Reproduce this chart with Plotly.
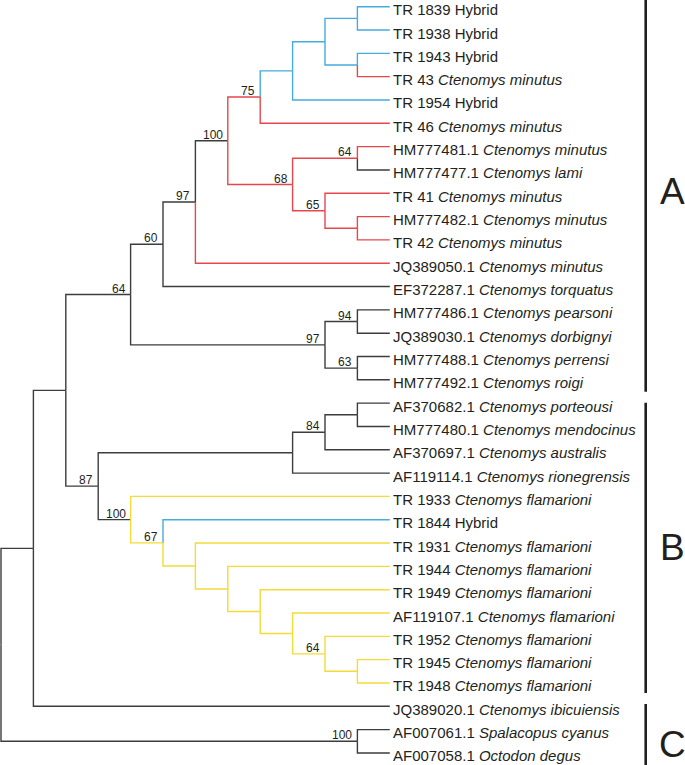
import plotly.graph_objects as go

# ---------------- data ----------------
leaf_ids = ["TR 1839", "TR 1938", "TR 1943", "TR 43", "TR 1954", "TR 46",
            "HM777481.1", "HM777477.1", "TR 41", "HM777482.1", "TR 42",
            "JQ389050.1", "EF372287.1", "HM777486.1", "JQ389030.1",
            "HM777488.1", "HM777492.1", "AF370682.1", "HM777480.1",
            "AF370697.1", "AF119114.1", "TR 1933", "TR 1844", "TR 1931",
            "TR 1944", "TR 1949", "AF119107.1", "TR 1952", "TR 1945",
            "TR 1948", "JQ389020.1", "AF007061.1", "AF007058.1"]
leaf_taxa = ["Hybrid", "Hybrid", "Hybrid", "Ctenomys minutus", "Hybrid",
             "Ctenomys minutus", "Ctenomys minutus", "Ctenomys lami",
             "Ctenomys minutus", "Ctenomys minutus", "Ctenomys minutus",
             "Ctenomys minutus", "Ctenomys torquatus", "Ctenomys pearsoni",
             "Ctenomys dorbignyi", "Ctenomys perrensi", "Ctenomys roigi",
             "Ctenomys porteousi", "Ctenomys mendocinus", "Ctenomys australis",
             "Ctenomys rionegrensis", "Ctenomys flamarioni", "Hybrid",
             "Ctenomys flamarioni", "Ctenomys flamarioni", "Ctenomys flamarioni",
             "Ctenomys flamarioni", "Ctenomys flamarioni", "Ctenomys flamarioni",
             "Ctenomys flamarioni", "Ctenomys ibicuiensis", "Spalacopus cyanus",
             "Octodon degus"]
# lineage group of the branch leading to each leaf: B hybrid, R minutus, Y flamarioni, K other
leaf_group = list("BBBRBRRKRRRRK" + "KKKK" + "KKKK" + "YB" + "YYYYYYY" + "KKK")
leaf_depth = 12

# internal nodes: name, depth, children, group of incoming branch, bootstrap
node_names = ["a", "b", "c", "d", "n75", "n64a", "e", "n65", "n68", "n100a",
              "n97a", "n60", "n94", "n63", "n97b", "n64b", "f", "n84", "g",
              "h", "n64c", "i", "j", "k", "l", "n67", "n100b", "n87", "m",
              "n", "n100c", "root"]
node_depth = [11, 11, 10, 9, 8, 11, 11, 10, 9, 7,
              6, 5, 11, 11, 10, 4, 11, 10, 9,
              11, 10, 9, 8, 7, 6, 5, 4, 3, 2,
              1, 11, 0]
node_children = [[0, 1], [2, 3], ["a", "b"], ["c", 4], ["d", 5], [6, 7], [9, 10],
                 [8, "e"], ["n64a", "n65"], ["n75", "n68"], ["n100a", 11],
                 ["n97a", 12], [13, 14], [15, 16], ["n94", "n63"],
                 ["n60", "n97b"], [17, 18], ["f", 19], ["n84", 20],
                 [28, 29], [27, "h"], [26, "n64c"], [25, "i"], [24, "j"],
                 [23, "k"], [22, "l"], [21, "n67"], ["g", "n100b"],
                 ["n64b", "n87"], ["m", 30], [31, 32], ["n", "n100c"]]
node_group = ["B", "B", "B", "B", "R", "R", "R", "R", "R", "K",
              "K", "K", "K", "K", "K", "K", "K", "K", "K",
              "Y", "Y", "Y", "Y", "Y", "Y", "Y", "K", "K", "K",
              "K", "K", "K"]
node_support = [None, None, None, None, 75, 64, None, 65, 68, 100,
                97, 60, 94, 63, 97, 64, None, 84, None,
                None, 64, None, None, None, None, 67, 100, 87, None,
                None, 100, None]

clade_names = ["A", "B", "C"]
clade_first = [0, 17, 30]
clade_last = [16, 29, 32]

# ---------------- styling ----------------
colors = {"B": "#46abdd", "R": "#e8464d", "Y": "#f3db3a", "K": "#3d3d3d"}
FONT = "Arial, 'Liberation Sans', Helvetica, sans-serif"
W, H = 685, 765
PX_X0, PX_DX = 1.0, 32.4      # pixel position of depth 0 and pixel per depth level
PX_Y0, PX_DY = 6.7, 23.32     # pixel position of first leaf and pixel per leaf

# ---------------- layout computation ----------------
node_idx = {n: k for k, n in enumerate(node_names)}
ypos = {}


def get_y(ref):
    if isinstance(ref, int):
        return float(ref)
    if ref in ypos:
        return ypos[ref]
    ch = node_children[node_idx[ref]]
    y = (get_y(ch[0]) + get_y(ch[-1])) / 2.0
    ypos[ref] = y
    return y


def get_depth(ref):
    return leaf_depth if isinstance(ref, int) else node_depth[node_idx[ref]]


def get_group(ref):
    return leaf_group[ref] if isinstance(ref, int) else node_group[node_idx[ref]]


segs = {g: ([], []) for g in colors}
for k, name in enumerate(node_names):
    py = get_y(name)
    px = node_depth[k]
    for c in node_children[k]:
        cy = get_y(c)
        cx = get_depth(c)
        xs, ys = segs[get_group(c)]
        xs += [px, px, cx, None]
        ys += [py, cy, cy, None]

fig = go.Figure()
for g in ["K", "R", "B", "Y"]:
    xs, ys = segs[g]
    fig.add_trace(go.Scatter(x=xs, y=ys, mode="lines",
                             line=dict(color=colors[g], width=1.4),
                             hoverinfo="skip", showlegend=False))

annotations = []
# leaf labels
for i, (lid, tax) in enumerate(zip(leaf_ids, leaf_taxa)):
    t = lid + " " + (tax if tax == "Hybrid" else "<i>" + tax + "</i>")
    annotations.append(dict(x=leaf_depth, y=i, text=t, xref="x", yref="y",
                            xanchor="left", yanchor="middle", showarrow=False,
                            xshift=1.5, yshift=-3,
                            font=dict(family=FONT, size=15, color="#231f20")))
# bootstrap labels
for k, name in enumerate(node_names):
    s = node_support[k]
    if s is None:
        continue
    annotations.append(dict(x=node_depth[k], y=get_y(name), text=str(s),
                            xref="x", yref="y", xanchor="right", yanchor="middle",
                            showarrow=False, xshift=-3, yshift=6,
                            font=dict(family=FONT, size=12, color="#231f20")))

# clade brackets
bracket_x = (645.7 - PX_X0) / PX_DX
label_x = (672 - PX_X0) / PX_DX
bracket_pad = {"A": (-0.6, 0.51), "B": (-0.02, 0.43), "C": (-0.1, 0.7)}
label_y = {"A": 7.92, "B": 23.17, "C": 31.62}
for nm, f, l in zip(clade_names, clade_first, clade_last):
    p0, p1 = bracket_pad[nm]
    fig.add_trace(go.Scatter(x=[bracket_x, bracket_x], y=[f + p0, l + p1],
                             mode="lines", line=dict(color="#1f1f1f", width=2.6),
                             hoverinfo="skip", showlegend=False))
    annotations.append(dict(x=label_x, y=label_y[nm], text=nm, xref="x", yref="y",
                            xanchor="center", yanchor="middle", showarrow=False,
                            font=dict(family=FONT, size=37, color="#231f20")))

x_lo = -PX_X0 / PX_DX
x_hi = (W - PX_X0) / PX_DX
y_top = -PX_Y0 / PX_DY
y_bot = (H - PX_Y0) / PX_DY

fig.update_layout(
    width=W, height=H, margin=dict(l=0, r=0, t=0, b=0),
    paper_bgcolor="white", plot_bgcolor="white",
    xaxis=dict(range=[x_lo, x_hi], visible=False, fixedrange=True),
    yaxis=dict(range=[y_bot, y_top], visible=False, fixedrange=True),
    annotations=annotations, showlegend=False,
)

fig.write_html("out.html", config={"displayModeBar": False},
               post_script="document.body.style.margin='0';document.body.style.overflow='hidden';")
